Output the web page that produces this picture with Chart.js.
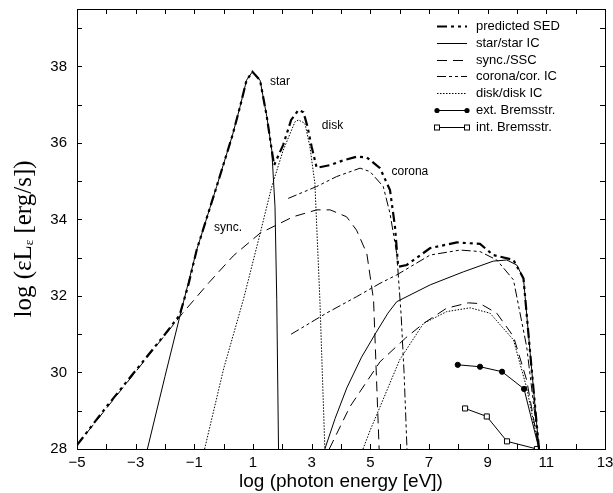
<!DOCTYPE html>
<html>
<head>
<meta charset="utf-8">
<script src="https://cdn.jsdelivr.net/npm/chart.js@4.4.1/dist/chart.umd.min.js"></script>
<style>
  html, body { margin: 0; padding: 0; background: #fff; }
  #wrap { width: 613px; height: 493px; }
</style>
</head>
<body>
<div id="wrap"><canvas id="c" width="613" height="493"></canvas></div>
<script>
// axis ranges and labelled ticks
const xMin = -5, xMax = 13;
const yMin = 28, yMax = 39.5;
const xLabels = [-5, -3, -1, 1, 3, 5, 7, 9, 11, 13];
const yLabels = [28, 30, 32, 34, 36, 38];

// curves: [log photon energy (eV), log eL_e (erg/s)]
const sed = [[-5,28.1],[-4,29.1],[-3,30.05],[-2,31.0],[-1.5,31.5],[-1.2,32.3],[-0.92,33.2],[-0.24,34.86],[0.3,36.2],[0.56,36.95],[0.78,37.64],[0.98,37.86],[1.24,37.64],[1.47,36.69],[1.64,35.81],[1.72,35.42],[2.03,35.95],[2.3,36.6],[2.55,36.86],[2.72,36.8],[2.85,36.45],[3.0,35.9],[3.17,35.35],[3.63,35.42],[4.1,35.55],[4.53,35.64],[4.88,35.62],[5.33,35.34],[5.67,34.77],[5.84,33.81],[5.95,32.76],[6.24,32.81],[7.04,33.25],[7.95,33.40],[8.74,33.36],[9.19,33.07],[9.88,32.94],[10.22,32.46],[10.45,30.5],[10.75,28]];
const star = [[-2.6,28],[-2.0,29.9],[-1.5,31.45],[-0.92,33.2],[-0.24,34.86],[0.3,36.2],[0.56,36.95],[0.78,37.64],[0.98,37.86],[1.24,37.64],[1.47,36.69],[1.64,35.81],[1.75,34.33],[1.81,31.9],[1.87,28]];
const starIC = [[3.45,28],[3.8,28.8],[4.2,29.6],[4.7,30.4],[5.2,31.05],[5.6,31.55],[5.9,31.85],[7.04,32.29],[8.17,32.63],[9.19,32.91],[9.65,32.94],[9.99,32.81],[10.22,32.46],[10.45,30.5],[10.75,28]];
const sync = [[-5,28.1],[-3,30.02],[-1.4,31.55],[-0.5,32.35],[0.33,33.05],[1.24,33.64],[2.37,34.07],[3.17,34.25],[3.63,34.25],[4.19,34.07],[4.53,33.72],[4.88,33.11],[5.11,31.9],[5.3,28]];
const ssc = [[3.6,28],[4.3,29.1],[5.33,30.28],[6.2,30.9],[6.81,31.28],[7.6,31.68],[8.34,31.82],[8.74,31.8],[9.31,31.55],[9.88,30.94],[10.33,29.8],[10.75,28]];
const corona = [[2.2,34.55],[3.17,34.86],[3.85,35.12],[4.65,35.34],[4.99,35.25],[5.44,34.86],[5.67,34.16],[5.9,33.11],[6.05,31.5],[6.15,30],[6.25,28]];
const coronaIC = [[2.3,31.0],[3.5,31.55],[4.53,31.98],[5.33,32.33],[5.9,32.55],[7.04,33.07],[8.06,33.2],[8.74,33.16],[9.31,32.94],[9.88,32.42],[10.33,30.67],[10.75,28]];
const disk = [[-0.65,28],[0,30.1],[0.67,31.9],[1.2,33.5],[1.64,34.86],[2.03,35.81],[2.43,36.55],[2.55,36.6],[2.77,36.51],[2.94,35.9],[3.11,34.94],[3.28,31.9],[3.45,28]];
const diskIC = [[4.75,28],[5.0,28.5],[5.33,29.1],[6.0,30.33],[6.81,31.28],[7.6,31.59],[8.4,31.69],[9.08,31.55],[9.88,30.85],[10.33,29.6],[10.75,28]];
const bremExt = [[7.98,30.2],[8.74,30.15],[9.49,30.02],[10.24,29.57],[10.75,28]];
const bremInt = [[8.23,29.06],[8.97,28.85],[9.66,28.2],[10.68,28.0]];

// in-plot labels
const notes = [['star',1.92,37.6],['disk',3.71,36.44],['corona',6.35,35.25],['sync.',0.15,33.78]];

const legendItems = ['predicted SED','star/star IC','sync./SSC','corona/cor. IC','disk/disk IC','ext. Bremsstr.','int. Bremsstr.'];

const SANS = '"Liberation Sans", Arial, sans-serif';
const SERIF = '"Liberation Serif", "Times New Roman", serif';

function pts(a){ return a.map(p => ({x: p[0], y: p[1]})); }
function line(data, width, dash, extra){
  return Object.assign({ data: pts(data), showLine: true, borderColor: '#000', backgroundColor: '#000',
    borderWidth: width, borderDash: dash, pointRadius: 0, pointHoverRadius: 0, fill: false, tension: 0 }, extra || {});
}

const styles = {
  sed: [2.2, [10,4,3,4,3,4]],
  star: [1, []],
  sync: [1, [10,6]],
  corona: [1, [9,3,3,3,3,3]],
  disk: [1, [1.5,1.5]],
};

const datasets = [
  line(sed, ...styles.sed),
  line(star, ...styles.star), line(starIC, ...styles.star),
  line(sync, ...styles.sync), line(ssc, ...styles.sync),
  line(corona, ...styles.corona), line(coronaIC, ...styles.corona),
  line(disk, ...styles.disk), line(diskIC, ...styles.disk),
  line(bremExt, 1, [], { pointRadius: [2.6,2.6,2.6,2.6,0], pointStyle: 'circle', pointBackgroundColor: '#000' }),
  line(bremInt, 1, [], { pointRadius: 3.6, pointStyle: 'rect', pointBackgroundColor: '#fff', pointBorderColor: '#000', pointBorderWidth: 1 }),
];

function seg(ctx, x1, y1, x2, y2){ ctx.beginPath(); ctx.moveTo(x1, y1); ctx.lineTo(x2, y2); ctx.stroke(); }

const decor = {
  id: 'decor',
  afterDatasetsDraw(chart) {
    const { ctx, scales: { x, y } } = chart;
    // frame taken from the scales themselves
    const L = Math.round(x.getPixelForValue(xMin)), R = Math.round(x.getPixelForValue(xMax));
    const T = Math.round(y.getPixelForValue(yMax)), B = Math.round(y.getPixelForValue(yMin));
    ctx.save();
    ctx.strokeStyle = '#000'; ctx.fillStyle = '#000'; ctx.lineWidth = 1; ctx.setLineDash([]);
    ctx.strokeRect(L + 0.5, T + 0.5, R - L, B - T);
    // inward ticks on all four sides
    for (let v = xMin; v <= xMax; v++) {
      const px = Math.round(x.getPixelForValue(v)) + 0.5;
      seg(ctx, px, B, px, B - 5);
      seg(ctx, px, T, px, T + 5);
    }
    for (let v = yMin; v <= Math.floor(yMax); v++) {
      const py = Math.round(y.getPixelForValue(v)) + 0.5;
      seg(ctx, L, py, L + 5, py);
      seg(ctx, R, py, R - 5, py);
    }
    // tick labels
    ctx.font = '15px ' + SANS; ctx.textBaseline = 'middle';
    ctx.textAlign = 'center';
    xLabels.forEach(v => ctx.fillText(String(v).replace('-', '\u2212'), x.getPixelForValue(v), B + 14));
    ctx.textAlign = 'right';
    yLabels.forEach(v => ctx.fillText(String(v), L - 10, y.getPixelForValue(v)));

    // curve labels
    ctx.font = '12px ' + SANS; ctx.textAlign = 'center';
    notes.forEach(n => ctx.fillText(n[0], x.getPixelForValue(n[1]), y.getPixelForValue(n[2])));

    // legend
    const lx0 = 437, lx1 = 467, tx = 476, ly0 = 26, dy = 16.8;
    const legendStyles = [styles.sed, styles.star, styles.sync, styles.corona, styles.disk, [1, []], [1, []]];
    legendItems.forEach((t, i) => {
      const ly = Math.round(ly0 + i * dy) + 0.5;
      ctx.lineWidth = legendStyles[i][0]; ctx.setLineDash(legendStyles[i][1]);
      seg(ctx, lx0, ly, lx1, ly);
      ctx.setLineDash([]); ctx.lineWidth = 1;
      if (i === 5) {
        [lx0, lx1].forEach(px => { ctx.beginPath(); ctx.arc(px, ly, 2.6, 0, Math.PI * 2); ctx.fill(); });
      } else if (i === 6) {
        [lx0, lx1].forEach(px => { ctx.fillStyle = '#fff'; ctx.fillRect(px - 2.5, ly - 2.5, 5, 5); ctx.strokeRect(px - 2.5, ly - 2.5, 5, 5); ctx.fillStyle = '#000'; });
      }
      ctx.font = '13px ' + SANS; ctx.textAlign = 'left'; ctx.textBaseline = 'middle';
      ctx.fillText(t, tx, ly);
    });

    // axis titles
    ctx.font = '19px ' + SANS; ctx.textAlign = 'center'; ctx.textBaseline = 'middle';
    ctx.fillText('log (photon energy [eV])', (L + R) / 2, 482);

    ctx.translate(24, 239); ctx.rotate(-Math.PI / 2);
    const big = '25px ' + SERIF, small = '13px ' + SERIF;
    ctx.font = big; const w1 = ctx.measureText('log (εL').width; const w3 = ctx.measureText(' [erg/s])').width;
    ctx.font = small; const w2 = ctx.measureText('ε').width;
    let cx = -(w1 + w2 + w3) / 2;
    ctx.textAlign = 'left';
    ctx.font = big; ctx.fillText('log (εL', cx, 0); cx += w1;
    ctx.font = small; ctx.fillText('ε', cx, 6); cx += w2;
    ctx.font = big; ctx.fillText(' [erg/s])', cx, 0);
    ctx.restore();
  }
};

new Chart(document.getElementById('c'), {
  type: 'scatter',
  data: { datasets },
  options: {
    responsive: false,
    animation: false,
    events: [],
    layout: { padding: { top: 9, right: 8, left: 0, bottom: 0 } },
    plugins: { legend: { display: false }, tooltip: { enabled: false } },
    scales: {
      x: {
        type: 'linear', min: xMin, max: xMax,
        grid: { display: false, drawTicks: false }, border: { display: false },
        ticks: { display: false },
        afterFit: s => { s.height = 44; },
      },
      y: {
        type: 'linear', min: yMin, max: yMax,
        grid: { display: false, drawTicks: false }, border: { display: false },
        ticks: { display: false },
        afterFit: s => { s.width = 77; },
      },
    },
  },
  plugins: [decor],
});
</script>
</body>
</html>
